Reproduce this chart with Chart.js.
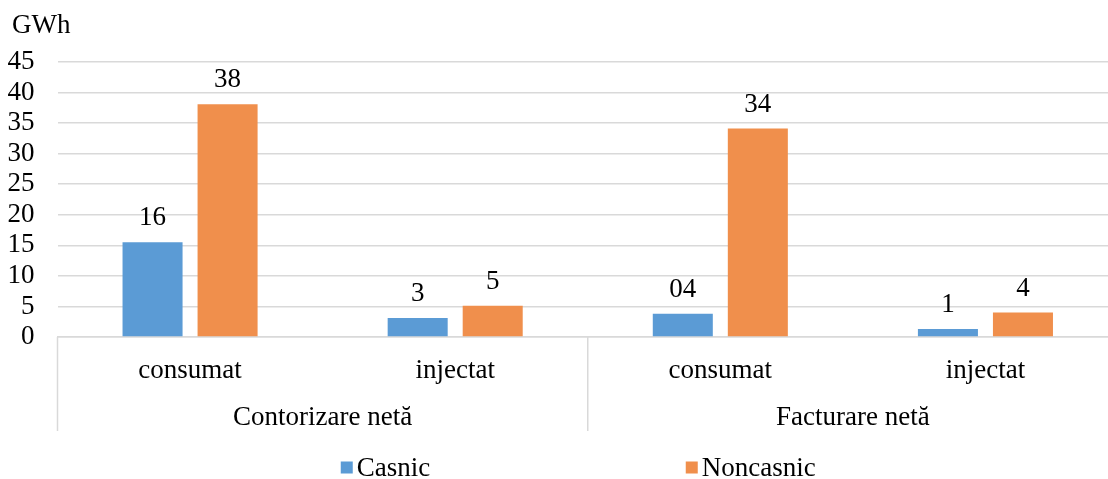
<!DOCTYPE html>
<html>
<head>
<meta charset="utf-8">
<script src="https://cdn.jsdelivr.net/npm/chart.js@4.4.1/dist/chart.umd.min.js"></script>
<style>
  html, body { margin: 0; padding: 0; background: #fff; overflow: hidden; }
  canvas { display: block; }
</style>
</head>
<body>
<canvas id="grafic" width="1118" height="479"></canvas>
<script>
const categorii = ['consumat', 'injectat', 'consumat', 'injectat'];
const grupe = ['Contorizare netă', 'Facturare netă'];
const serii = ['Casnic', 'Noncasnic'];
const casnic = [15.5, 3.1, 3.8, 1.3];
const noncasnic = [38.1, 5.1, 34.1, 4.0];
const eticheteCasnic = ['16', '3', '04', '1'];
const eticheteNoncasnic = ['38', '5', '34', '4'];
const unitate = 'GWh';

const FAMILIE = '"Liberation Serif", "Times New Roman", serif';
const MARIME = 27;
const FONT = MARIME + 'px ' + FAMILIE;
const GRI = '#d9d9d9';
const culori = ['#5b9bd5', '#f08f4c'];

const extras = {
    id: 'extras',
    afterDatasetsDraw(chart) {
        const ctx = chart.ctx;
        const etichete = [eticheteCasnic, eticheteNoncasnic];
        ctx.save();
        ctx.font = FONT;
        ctx.fillStyle = '#000';
        ctx.textAlign = 'center';
        ctx.textBaseline = 'alphabetic';
        chart.data.datasets.forEach((ds, i) => {
            chart.getDatasetMeta(i).data.forEach((bar, j) => {
                ctx.fillText(etichete[i][j], bar.x, bar.y - 17);
            });
        });
        ctx.restore();
    },
    afterDraw(chart) {
        const ctx = chart.ctx;
        const a = chart.chartArea;
        const mijloc = (a.left + a.right) / 2;
        ctx.save();

        // separatori pentru grupe
        ctx.strokeStyle = GRI;
        ctx.lineWidth = 1.5;
        [a.left, mijloc, a.right].forEach(x => {
            ctx.beginPath();
            ctx.moveTo(x, a.bottom);
            ctx.lineTo(x, a.bottom + 94);
            ctx.stroke();
        });

        ctx.font = FONT;
        ctx.fillStyle = '#000';
        ctx.textBaseline = 'alphabetic';

        // etichete grupe
        ctx.textAlign = 'center';
        ctx.fillText(grupe[0], (a.left + mijloc) / 2, a.bottom + 88);
        ctx.fillText(grupe[1], (mijloc + a.right) / 2, a.bottom + 88);

        // unitate
        ctx.textAlign = 'left';
        ctx.fillText(unitate, 12, 33);

        // legenda
        const pozitii = [mijloc - 247, mijloc + 98];
        chart.data.datasets.forEach((ds, i) => {
            ctx.fillStyle = ds.backgroundColor;
            ctx.fillRect(pozitii[i], 461.5, 12, 12);
            ctx.font = FONT;
            ctx.textAlign = 'left';
            ctx.fillStyle = '#000';
            ctx.fillText(ds.label, pozitii[i] + 16, 476);
        });
        ctx.restore();
    }
};

new Chart(document.getElementById('grafic'), {
    type: 'bar',
    data: {
        labels: categorii,
        datasets: [
            { label: serii[0], data: casnic, backgroundColor: culori[0] },
            { label: serii[1], data: noncasnic, backgroundColor: culori[1] }
        ]
    },
    options: {
        responsive: false,
        animation: false,
        events: [],
        layout: { padding: { top: 62, left: 0, right: 0, bottom: 0 } },
        datasets: {
            bar: { barPercentage: 0.8, categoryPercentage: 0.566 }
        },
        plugins: {
            legend: { display: false },
            tooltip: { enabled: false }
        },
        scales: {
            x: {
                grid: { display: false, drawTicks: false },
                border: { display: true, color: GRI, width: 1.5 },
                ticks: {
                    font: { family: FAMILIE, size: MARIME },
                    color: '#000',
                    padding: 18,
                    maxRotation: 0,
                    autoSkip: false
                },
                afterFit(scale) { scale.height = 142; }
            },
            y: {
                min: 0,
                max: 45,
                grid: { color: GRI, lineWidth: 1.5, drawTicks: false },
                border: { display: false },
                ticks: {
                    stepSize: 5,
                    autoSkip: false,
                    font: { family: FAMILIE, size: MARIME },
                    color: '#000',
                    padding: 23
                },
                afterFit(scale) { scale.width = 57.5; }
            }
        }
    },
    plugins: [extras]
});
</script>
</body>
</html>
